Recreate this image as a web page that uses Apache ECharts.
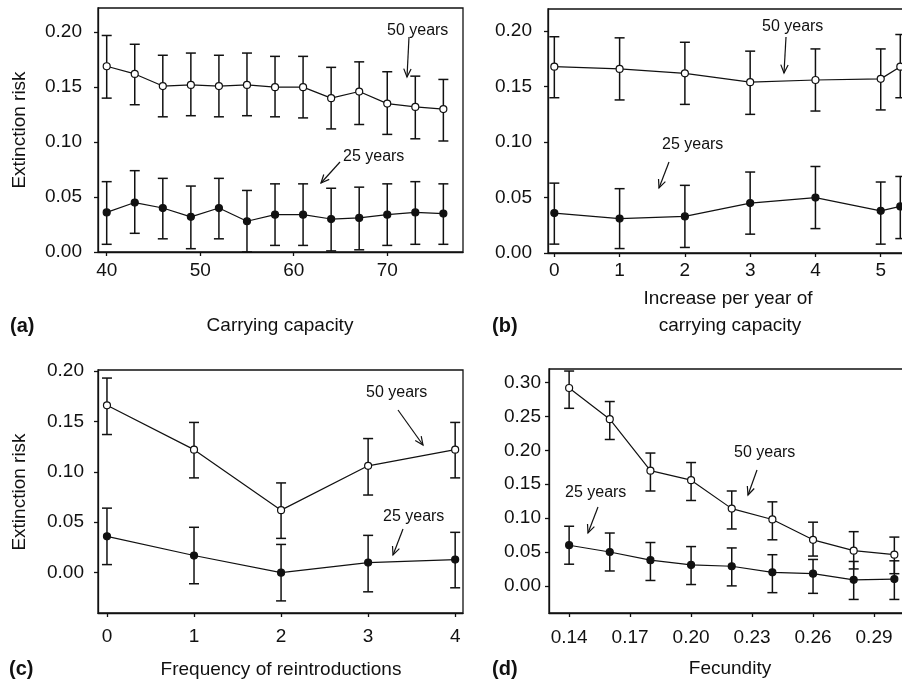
<!DOCTYPE html>
<html>
<head>
<meta charset="utf-8">
<script src="https://cdn.jsdelivr.net/npm/echarts@6/dist/echarts.min.js"></script>
<style>
html,body{margin:0;padding:0;background:#fff;}
#chart{width:902px;height:680px;}
</style>
</head>
<body>
<div id="chart"></div>
<script>
var FONT = "'Liberation Sans', Arial, Helvetica, sans-serif";
var INK = '#111';

// (a) carrying capacity
var capX   = [40, 43, 46, 49, 52, 55, 58, 61, 64, 67, 70, 73, 76];
var a50    = [0.169, 0.162, 0.151, 0.152, 0.151, 0.152, 0.150, 0.150, 0.140, 0.146, 0.135, 0.132, 0.130];
var a50Lo  = [0.140, 0.134, 0.123, 0.124, 0.123, 0.124, 0.123, 0.122, 0.112, 0.116, 0.107, 0.103, 0.101];
var a50Hi  = [0.197, 0.189, 0.179, 0.181, 0.179, 0.181, 0.178, 0.178, 0.168, 0.173, 0.164, 0.160, 0.157];
var a25    = [0.036, 0.045, 0.040, 0.032, 0.040, 0.028, 0.034, 0.034, 0.030, 0.031, 0.034, 0.036, 0.035];
var a25Lo  = [0.007, 0.017, 0.012, 0.003, 0.012, 0.000, 0.006, 0.006, 0.001, 0.002, 0.006, 0.007, 0.007];
var a25Hi  = [0.064, 0.074, 0.067, 0.060, 0.067, 0.056, 0.062, 0.062, 0.058, 0.059, 0.062, 0.064, 0.062];

// (b) increase per year of carrying capacity
var incX   = [0, 1, 2, 3, 4, 5, 5.3];
var b50    = [0.168, 0.166, 0.162, 0.154, 0.156, 0.157, 0.168];
var b50Lo  = [0.140, 0.138, 0.134, 0.125, 0.128, 0.129, 0.140];
var b50Hi  = [0.195, 0.194, 0.190, 0.182, 0.184, 0.184, 0.197];
var b25    = [0.036, 0.031, 0.033, 0.045, 0.050, 0.038, 0.042];
var b25Lo  = [0.008, 0.004, 0.005, 0.017, 0.022, 0.008, 0.013];
var b25Hi  = [0.063, 0.058, 0.061, 0.073, 0.078, 0.064, 0.069];

// (c) frequency of reintroductions
var freqX  = [0, 1, 2, 3, 4];
var c50    = [0.166, 0.122, 0.062, 0.106, 0.122];
var c50Lo  = [0.137, 0.094, 0.034, 0.077, 0.094];
var c50Hi  = [0.193, 0.149, 0.089, 0.133, 0.149];
var c25    = [0.036, 0.017, 0.000, 0.010, 0.013];
var c25Lo  = [0.008, -0.011, -0.028, -0.019, -0.015];
var c25Hi  = [0.064, 0.045, 0.028, 0.037, 0.040];

// (d) fecundity
var fecX   = [0.14, 0.16, 0.18, 0.20, 0.22, 0.24, 0.26, 0.28, 0.30];
var d50    = [0.292, 0.246, 0.170, 0.156, 0.114, 0.098, 0.068, 0.052, 0.046];
var d50Lo  = [0.262, 0.216, 0.140, 0.126, 0.084, 0.068, 0.044, 0.025, 0.018];
var d50Hi  = [0.317, 0.272, 0.196, 0.182, 0.140, 0.124, 0.094, 0.080, 0.072];
var d25    = [0.060, 0.050, 0.038, 0.031, 0.029, 0.020, 0.018, 0.009, 0.010];
var d25Lo  = [0.032, 0.022, 0.008, 0.002, 0.000, -0.010, -0.011, -0.020, -0.020];
var d25Hi  = [0.088, 0.078, 0.064, 0.058, 0.056, 0.046, 0.039, 0.036, 0.037];

// tick labels
var capTicks  = [40, 50, 60, 70];
var incTicks  = [0, 1, 2, 3, 4, 5];
var freqTicks = [0, 1, 2, 3, 4];
var fecTicks  = [0.14, 0.17, 0.20, 0.23, 0.26, 0.29];
var riskTicks = [0, 0.05, 0.10, 0.15, 0.20];
var riskTicksD = [0, 0.05, 0.10, 0.15, 0.20, 0.25, 0.30];

function zip2(xs, ys) { return xs.map(function (x, i) { return [x, ys[i]]; }); }

function xAx(gi, min, max, ticks, dec, margin) {
    return {
        type: 'value', gridIndex: gi, min: min, max: max,
        axisLine: {show: true, onZero: false, lineStyle: {color: INK, width: 1.3}},
        axisTick: {show: true, length: 4, customValues: ticks, lineStyle: {color: INK, width: 1.3}},
        axisLabel: {customValues: ticks, margin: margin, fontSize: 19, color: INK, fontFamily: FONT,
            formatter: function (v) { return Number(v).toFixed(dec); }},
        splitLine: {show: false}
    };
}
function yAx(gi, min, max, ticks, margin) {
    return {
        type: 'value', gridIndex: gi, min: min, max: max,
        axisLine: {show: true, onZero: false, lineStyle: {color: INK, width: 1.3}},
        axisTick: {show: true, length: 4, customValues: ticks, lineStyle: {color: INK, width: 1.3}},
        axisLabel: {customValues: ticks, margin: margin, fontSize: 19, color: INK, fontFamily: FONT,
            formatter: function (v) { return Number(v).toFixed(2); }},
        splitLine: {show: false}
    };
}

function lineSeries(gi, xs, ys, open) {
    return {
        type: 'line', xAxisIndex: gi, yAxisIndex: gi, data: zip2(xs, ys),
        symbol: 'circle', symbolSize: 7, showSymbol: true,
        itemStyle: {color: open ? '#fff' : INK, borderColor: INK, borderWidth: 1.2},
        lineStyle: {color: INK, width: 1.2},
        emphasis: {disabled: true}, z: 3, silent: true
    };
}

function errSeries(gi, xs, lo, hi) {
    return {
        type: 'custom', xAxisIndex: gi, yAxisIndex: gi, z: 2, silent: true,
        data: xs.map(function (x, i) { return [x, lo[i], hi[i]]; }),
        renderItem: function (params, api) {
            var x = api.value(0);
            var p1 = api.coord([x, api.value(1)]);
            var p2 = api.coord([x, api.value(2)]);
            var w = 5;
            var st = {stroke: INK, lineWidth: 1.5};
            return {type: 'group', children: [
                {type: 'line', shape: {x1: p1[0], y1: p1[1], x2: p2[0], y2: p2[1]}, style: st},
                {type: 'line', shape: {x1: p1[0] - w, y1: p1[1], x2: p1[0] + w, y2: p1[1]}, style: st},
                {type: 'line', shape: {x1: p2[0] - w, y1: p2[1], x2: p2[0] + w, y2: p2[1]}, style: st}
            ]};
        }
    };
}

// annotation text + arrow (pixel layout)
function arrow(x1, y1, x2, y2) {
    var ang = Math.atan2(y2 - y1, x2 - x1), L = 9, a = 0.42;
    var h1 = [x2 - L * Math.cos(ang - a), y2 - L * Math.sin(ang - a)];
    var h2 = [x2 - L * Math.cos(ang + a), y2 - L * Math.sin(ang + a)];
    var st = {stroke: INK, lineWidth: 1.2, fill: null};
    return [
        {type: 'polyline', shape: {points: [[x1, y1], [x2, y2]]}, style: st},
        {type: 'polyline', shape: {points: [h1, [x2, y2], h2]}, style: st}
    ];
}
function note(text, x, y) {
    return {type: 'text', x: x, y: y, style: {text: text, font: '16px ' + FONT, fill: INK, align: 'left', verticalAlign: 'middle'}};
}
function title(text, x, y, size, bold) {
    return {type: 'text', x: x, y: y, style: {text: text, font: (bold ? 'bold ' : '') + size + 'px ' + FONT, fill: INK, align: bold ? 'left' : 'center', verticalAlign: 'middle'}};
}

var graphics = [
    {type: 'text', x: 20, y: 130, rotation: Math.PI / 2, style: {text: 'Extinction risk', font: '19px ' + FONT, fill: INK, align: 'center', verticalAlign: 'middle'}},
    {type: 'text', x: 20, y: 492, rotation: Math.PI / 2, style: {text: 'Extinction risk', font: '19px ' + FONT, fill: INK, align: 'center', verticalAlign: 'middle'}},
    title('(a)', 10, 326, 20, true),
    title('(b)', 492, 326, 20, true),
    title('(c)', 9, 669, 20, true),
    title('(d)', 492, 669, 20, true),
    title('Carrying capacity', 280, 326, 19),
    title('Increase per year of', 728, 299, 19),
    title('carrying capacity', 730, 326, 19),
    title('Frequency of reintroductions', 281, 670, 19),
    title('Fecundity', 730, 669, 19),
    note('50 years', 387, 31),
    note('25 years', 343, 157),
    note('50 years', 762, 27),
    note('25 years', 662, 145),
    note('50 years', 366, 393),
    note('25 years', 383, 517),
    note('50 years', 734, 453),
    note('25 years', 565, 493)
].concat(
    arrow(409, 37, 407, 77),
    arrow(340, 162, 321, 183),
    arrow(786, 37, 784, 73),
    arrow(669, 162, 659, 188),
    arrow(398, 410, 423, 445),
    arrow(403, 529, 393, 555),
    arrow(757, 470, 748, 495),
    arrow(598, 507, 588, 533)
);

var gridStyle = {show: true, borderColor: INK, borderWidth: 1.3, backgroundColor: 'transparent',
    containLabel: false, outerBoundsMode: 'none'};
var chart = echarts.init(document.getElementById('chart'));
chart.setOption({
    animation: false,
    backgroundColor: '#fff',
    grid: [
        Object.assign({left: 98, top: 8, width: 365, height: 244}, gridStyle),
        Object.assign({left: 548, top: 9, width: 398, height: 244}, gridStyle),
        Object.assign({left: 98, top: 370, width: 365, height: 243}, gridStyle),
        Object.assign({left: 549, top: 369, width: 386, height: 244}, gridStyle)
    ],
    xAxis: [
        xAx(0, 39.07, 78.1, capTicks, 0, 9),
        xAx(1, -0.097, 6.0, incTicks, 0, 8),
        xAx(2, -0.103, 4.09, freqTicks, 0, 14),
        xAx(3, 0.1301, 0.32, fecTicks, 2, 15)
    ],
    yAxis: [
        yAx(0, 0, 0.222, riskTicks, 16),
        yAx(1, 0, 0.22, riskTicks, 16),
        yAx(2, -0.04, 0.201, riskTicks, 14),
        yAx(3, -0.04, 0.32, riskTicksD, 8)
    ],
    graphic: graphics,
    series: [
        errSeries(0, capX, a50Lo, a50Hi), errSeries(0, capX, a25Lo, a25Hi),
        lineSeries(0, capX, a50, true), lineSeries(0, capX, a25, false),
        errSeries(1, incX, b50Lo, b50Hi), errSeries(1, incX, b25Lo, b25Hi),
        lineSeries(1, incX, b50, true), lineSeries(1, incX, b25, false),
        errSeries(2, freqX, c50Lo, c50Hi), errSeries(2, freqX, c25Lo, c25Hi),
        lineSeries(2, freqX, c50, true), lineSeries(2, freqX, c25, false),
        errSeries(3, fecX, d50Lo, d50Hi), errSeries(3, fecX, d25Lo, d25Hi),
        lineSeries(3, fecX, d50, true), lineSeries(3, fecX, d25, false)
    ]
});
</script>
</body>
</html>
